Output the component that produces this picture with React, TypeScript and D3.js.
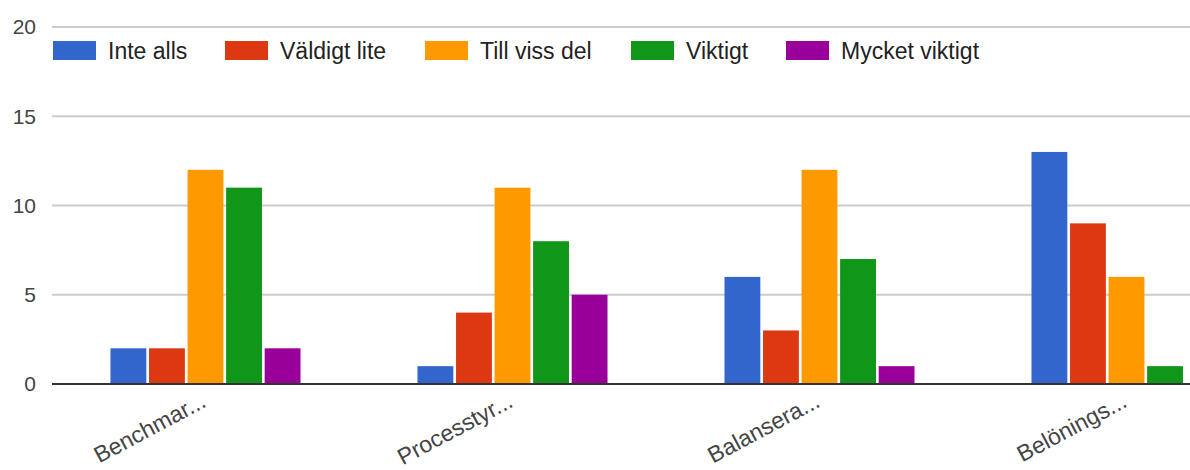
import React from "react";
import * as d3 from "d3";

const categories = ["Benchmar...", "Processtyr...", "Balansera...", "Belönings..."];
const seriesNames = ["Inte alls", "Väldigt lite", "Till viss del", "Viktigt", "Mycket viktigt"];
const inteAlls = [2, 1, 6, 13];
const valdigtLite = [2, 4, 3, 9];
const tillVissDel = [12, 11, 12, 6];
const viktigt = [11, 8, 7, 1];
const mycketViktigt = [2, 5, 1, 0];
const yTicks = [0, 5, 10, 15, 20];

const seriesValues = [inteAlls, valdigtLite, tillVissDel, viktigt, mycketViktigt];
const colors = ["#3366cc", "#dc3912", "#ff9900", "#109618", "#990099"];

// layout
const W = 1190;
const H = 470;
const plotLeft = 52;
const plotRightFull = 1280; // chart continues beyond the visible crop
const yTop = 27;
const yBottom = 384;
const legendX = [53, 225, 425, 631, 786];
const legendY = 41;
const font = "'Liberation Sans', Arial, sans-serif";

export default function App() {
  const x0 = d3
    .scaleBand<string>()
    .domain(categories)
    .range([plotLeft, plotRightFull])
    .paddingInner(0.381)
    .paddingOuter(0.1905);
  const x1 = d3
    .scaleBand<string>()
    .domain(seriesNames)
    .range([0, x0.bandwidth()])
    .paddingInner(0.07);
  const y = d3.scaleLinear().domain([0, 20]).range([yBottom, yTop]);

  return (
    <div style={{ position: "absolute", left: 0, top: 0 }}>
      <svg width={W} height={H} style={{ display: "block", background: "#fff" }}>
        {yTicks.map((t) =>
          t === 0 ? null : (
            <line key={"g" + t} x1={plotLeft} x2={W} y1={y(t)} y2={y(t)} stroke="#cccccc" strokeWidth={2} />
          )
        )}
        {yTicks.map((t) => (
          <text
            key={"t" + t}
            x={36}
            y={y(t)}
            dy="0.35em"
            textAnchor="end"
            fontFamily={font}
            fontSize={21}
            fill="#444"
          >
            {t}
          </text>
        ))}
        {categories.map((c, ci) => (
          <g key={c} transform={`translate(${x0(c)},0)`}>
            {seriesNames.map((s, si) => {
              const v = seriesValues[si][ci];
              if (v <= 0) return null;
              return (
                <rect
                  key={s}
                  x={x1(s)}
                  y={y(v)}
                  width={x1.bandwidth()}
                  height={y(0) - y(v)}
                  fill={colors[si]}
                />
              );
            })}
          </g>
        ))}
        <line x1={plotLeft} x2={W} y1={y(0)} y2={y(0)} stroke="#333" strokeWidth={2} />
        {categories.map((c) => {
          const cx = (x0(c) as number) + x0.bandwidth() / 2 + 2;
          return (
            <text
              key={"l" + c}
              transform={`translate(${cx},${406}) rotate(-28)`}
              textAnchor="end"
              fontFamily={font}
              fontSize={23}
              fill="#444"
            >
              {c}
            </text>
          );
        })}
        {seriesNames.map((s, si) => (
          <g key={"lg" + s} transform={`translate(${legendX[si]},${legendY})`}>
            <rect x={0} y={0} width={43} height={19} fill={colors[si]} />
            <text x={55} y={9.5} dy="0.35em" fontFamily={font} fontSize={23} fill="#222">
              {s}
            </text>
          </g>
        ))}
      </svg>
    </div>
  );
}
